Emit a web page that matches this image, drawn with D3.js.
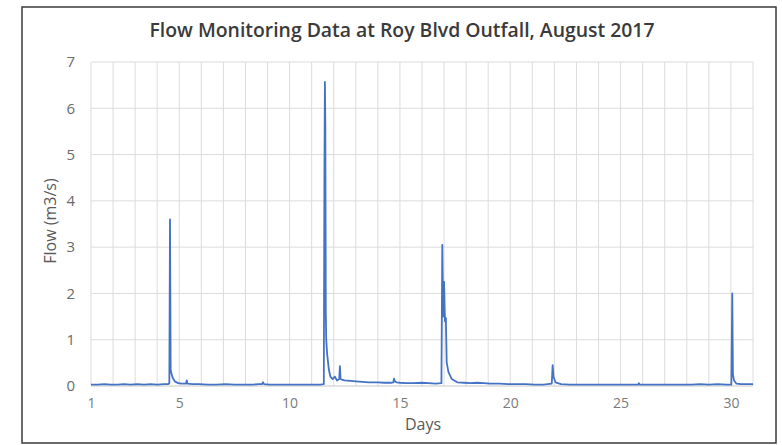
<!DOCTYPE html>
<html><head><meta charset="utf-8">
<script src="https://cdn.jsdelivr.net/npm/d3@7"></script>
<style>body{margin:0;background:#fff}svg{display:block}</style>
</head><body>
<svg id="c" width="782" height="445"></svg>
<script>
const title = "Flow Monitoring Data at Roy Blvd Outfall, August 2017";
const xLabel = "Days";
const yLabel = "Flow (m3/s)";
const xTicks = [1, 5, 10, 15, 20, 25, 30];
const yTicks = [0, 1, 2, 3, 4, 5, 6, 7];
const gridDays = d3.range(1, 32);
const days = [
  1.0,1.3,1.6,1.9,2.2,2.5,2.8,3.1,3.4,3.7,4.0,4.3,4.5,4.55,4.58,4.61,4.64,4.7,4.8,4.95,5.1,5.3,5.34,5.38,5.6,5.9,6.3,6.7,7.1,7.5,7.9,8.3,8.6,8.75,8.79,8.84,9.1,9.5,9.9,10.3,10.7,11.1,11.4,11.55,
  11.58,11.6,11.62,11.64,11.66,11.7,11.78,11.85,11.95,12.05,12.15,12.25,12.28,12.31,12.4,12.5,12.75,13.0,13.3,13.6,14.0,14.3,14.6,14.7,14.73,14.77,14.85,15.0,15.3,15.6,16.0,16.3,16.6,16.88,
  16.92,16.96,17.0,17.04,17.08,17.12,17.2,17.35,17.6,17.9,18.2,18.5,18.8,19.1,19.5,19.9,20.3,20.7,21.1,21.5,21.88,21.92,21.96,22.05,22.3,22.7,23.1,23.5,23.9,24.3,24.7,25.1,25.5,25.8,25.83,25.87,26.2,26.6,27.0,27.4,27.8,28.2,28.6,29.0,29.4,29.8,30.02,
  30.06,30.09,30.14,30.25,30.45,30.7,31.0
];
const flow = [
  0.03,0.03,0.04,0.03,0.03,0.04,0.03,0.04,0.03,0.04,0.03,0.04,0.04,0.06,3.60,0.35,0.28,0.18,0.10,0.06,0.05,0.05,0.12,0.05,0.04,0.04,0.03,0.03,0.04,0.03,0.03,0.03,0.04,0.04,0.08,0.04,0.03,0.03,0.03,0.03,0.03,0.03,0.03,0.04,
  4.80,6.57,5.60,1.60,1.00,0.70,0.35,0.20,0.15,0.20,0.12,0.15,0.43,0.15,0.13,0.12,0.11,0.10,0.09,0.08,0.08,0.07,0.07,0.08,0.16,0.10,0.08,0.07,0.06,0.06,0.07,0.06,0.05,0.06,
  3.05,1.50,2.25,1.40,1.47,0.50,0.30,0.15,0.08,0.07,0.06,0.07,0.06,0.05,0.05,0.04,0.04,0.04,0.03,0.03,0.05,0.45,0.20,0.08,0.04,0.03,0.03,0.03,0.03,0.03,0.03,0.03,0.03,0.03,0.06,0.03,0.03,0.03,0.03,0.03,0.03,0.03,0.04,0.03,0.04,0.03,0.03,
  2.00,0.25,0.12,0.05,0.04,0.04,0.04
];

const svg = d3.select("#c");
const x = d3.scaleLinear().domain([1, 31]).range([91, 753]);
const y = d3.scaleLinear().domain([0, 7]).range([386, 62]);

svg.append("rect").attr("x", 22).attr("y", 7).attr("width", 754).attr("height", 436)
  .attr("fill", "#fff").attr("stroke", "#3a3a3a").attr("stroke-width", 1.5);

const g = svg.append("g");
g.selectAll("line.vg").data(gridDays).join("line").attr("class","vg")
  .attr("x1", d => x(d)).attr("x2", d => x(d)).attr("y1", y(7)).attr("y2", y(0))
  .attr("stroke", "#dcdcdc").attr("stroke-width", 1);
g.selectAll("line.hg").data(yTicks).join("line").attr("class","hg")
  .attr("x1", x(1)).attr("x2", x(31)).attr("y1", d => y(d)).attr("y2", d => y(d))
  .attr("stroke", d => d === 0 ? "#c8c8c8" : "#dcdcdc").attr("stroke-width", 1);

const font = "'Open Sans', sans-serif";
const yAxis = d3.axisLeft(y).tickValues(yTicks).tickSize(0).tickPadding(16).tickFormat(d3.format("d"));
const ya = svg.append("g").attr("transform", `translate(${x(1)},0)`).call(yAxis);
ya.select(".domain").remove();
ya.selectAll("text").attr("font-family", font).attr("font-size", 15).attr("fill", "#6b6b6b");

const xAxis = d3.axisBottom(x).tickValues(xTicks).tickSize(0).tickPadding(12).tickFormat(d3.format("d"));
const xa = svg.append("g").attr("transform", `translate(0,${y(0)})`).call(xAxis);
xa.select(".domain").remove();
xa.selectAll("text").attr("font-family", font).attr("font-size", 14).attr("fill", "#7a7a7a");

const pts = days.map((d, i) => [d, flow[i]]);
svg.append("path").datum(pts)
  .attr("d", d3.line().x(d => x(d[0])).y(d => y(d[1])))
  .attr("fill", "none").attr("stroke", "#4472c4").attr("stroke-width", 1.8).attr("stroke-linejoin", "round");

svg.append("text").attr("x", 402).attr("y", 37).attr("text-anchor", "middle")
  .attr("font-family", font).attr("font-size", 19).attr("font-weight", 600)
  .attr("textLength", 505).attr("lengthAdjust", "spacingAndGlyphs")
  .attr("fill", "#3a3a3a").text(title);
svg.append("text").attr("x", 423).attr("y", 430).attr("text-anchor", "middle")
  .attr("font-family", font).attr("font-size", 16).attr("fill", "#595959").text(xLabel);
svg.append("text").attr("transform", "translate(56,221) rotate(-90)").attr("text-anchor", "middle")
  .attr("font-family", font).attr("font-size", 16).attr("fill", "#595959").text(yLabel);
</script>
</body></html>
